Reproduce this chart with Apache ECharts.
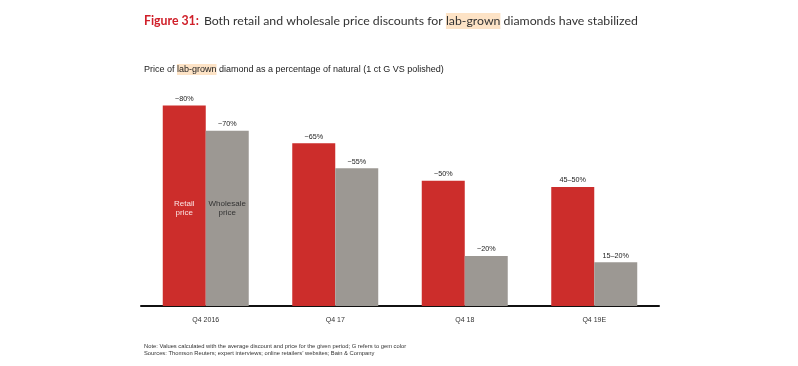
<!DOCTYPE html>
<html>
<head>
<meta charset="utf-8">
<script src="https://cdn.jsdelivr.net/npm/echarts@6/dist/echarts.min.js"></script>
<style>
html,body{margin:0;padding:0;background:#fff;}
#c{width:798px;height:366px;}
</style>
</head>
<body>
<div id="c"></div>
<script>
const categories = ['Q4 2016', 'Q4 17', 'Q4 18', 'Q4 19E'];
const retailValues = [80, 65, 50, 47.5];
const wholesaleValues = [70, 55, 20, 17.5];
const retailLabels = ['~80%', '~65%', '~50%', '45\u201350%'];
const wholesaleLabels = ['~70%', '~55%', '~20%', '15\u201320%'];
const seriesNames = ['Retail\nprice', 'Wholesale\nprice'];

const chart = echarts.init(document.getElementById('c'), null, {renderer: 'canvas'});
const font = 'Liberation Sans, Arial, sans-serif';
chart.setOption({
  backgroundColor: '#ffffff',
  animation: false,
  title: [
    {
      left: 139, top: 7,
      text: '{r|Figure 31:} {t|Both retail and wholesale price discounts for }{h|lab-grown}{t| diamonds have stabilized}',
      textStyle: {
        fontWeight: 'normal',
        rich: {
          r: {fontFamily: 'Lato', fontWeight: 'bold', fontSize: 12.3, color: '#d0202a'},
          t: {fontFamily: 'Lato', fontWeight: 'normal', fontSize: 12.3, color: '#333333'},
          h: {fontFamily: 'Lato', fontWeight: 'normal', fontSize: 12.3, color: '#333333', backgroundColor: '#fde3c6', padding: [2, 0, 2, 0]}
        }
      }
    },
    {
      left: 139, top: 59,
      text: '{t|Price of }{h|lab-grown}{t| diamond as a percentage of natural (1 ct G VS polished)}',
      textStyle: {
        fontWeight: 'normal',
        rich: {
          t: {fontFamily: font, fontWeight: 'normal', fontSize: 9, color: '#222222'},
          h: {fontFamily: font, fontWeight: 'normal', fontSize: 9, color: '#222222', backgroundColor: '#fde3c6', padding: [1, 0, 1, 0]}
        }
      }
    },
    {
      left: 139, top: 338,
      text: 'Note: Values calculated with the average discount and price for the given period; G refers to gem color\nSources: Thomson Reuters; expert interviews; online retailers\u2019 websites; Bain & Company',
      textStyle: {fontFamily: font, fontSize: 5.8, lineHeight: 6.7, color: '#333333', fontWeight: 'normal'}
    }
  ],
  grid: {left: 141, right: 139, top: 55.5, bottom: 60},
  xAxis: {
    type: 'category',
    data: categories,
    axisLine: {lineStyle: {color: '#111111', width: 2}},
    axisTick: {show: false},
    axisLabel: {fontFamily: font, fontSize: 7, color: '#333333', margin: 11}
  },
  yAxis: {
    type: 'value', min: 0, max: 100,
    show: false,
    splitLine: {show: false}
  },
  series: [
    {
      type: 'bar', name: 'Retail', data: retailValues,
      barGap: '0%', barCategoryGap: '33.6%',
      itemStyle: {color: '#cc2d2b'},
      label: {
        show: true, position: 'top', distance: 3,
        fontFamily: font, fontSize: 7.2, color: '#222222',
        formatter: p => retailLabels[p.dataIndex]
      },
      markPoint: {
        symbol: 'circle', symbolSize: 0,
        data: [{coord: [0, 39.2], value: 0}],
        label: {show: true, position: 'inside', formatter: seriesNames[0], fontFamily: font, fontSize: 8, lineHeight: 9, color: '#fbe3e3', fontWeight: 'normal'}
      }
    },
    {
      type: 'bar', name: 'Wholesale', data: wholesaleValues,
      barGap: '0%', barCategoryGap: '33.6%',
      itemStyle: {color: '#9c9893'},
      label: {
        show: true, position: 'top', distance: 3,
        fontFamily: font, fontSize: 7.2, color: '#222222',
        formatter: p => wholesaleLabels[p.dataIndex]
      },
      markPoint: {
        symbol: 'circle', symbolSize: 0,
        data: [{coord: [0, 39.2], value: 0}],
        label: {show: true, position: 'inside', formatter: seriesNames[1], fontFamily: font, fontSize: 8, lineHeight: 9, color: '#333333', fontWeight: 'normal'}
      }
    }
  ]
});
</script>
</body>
</html>
